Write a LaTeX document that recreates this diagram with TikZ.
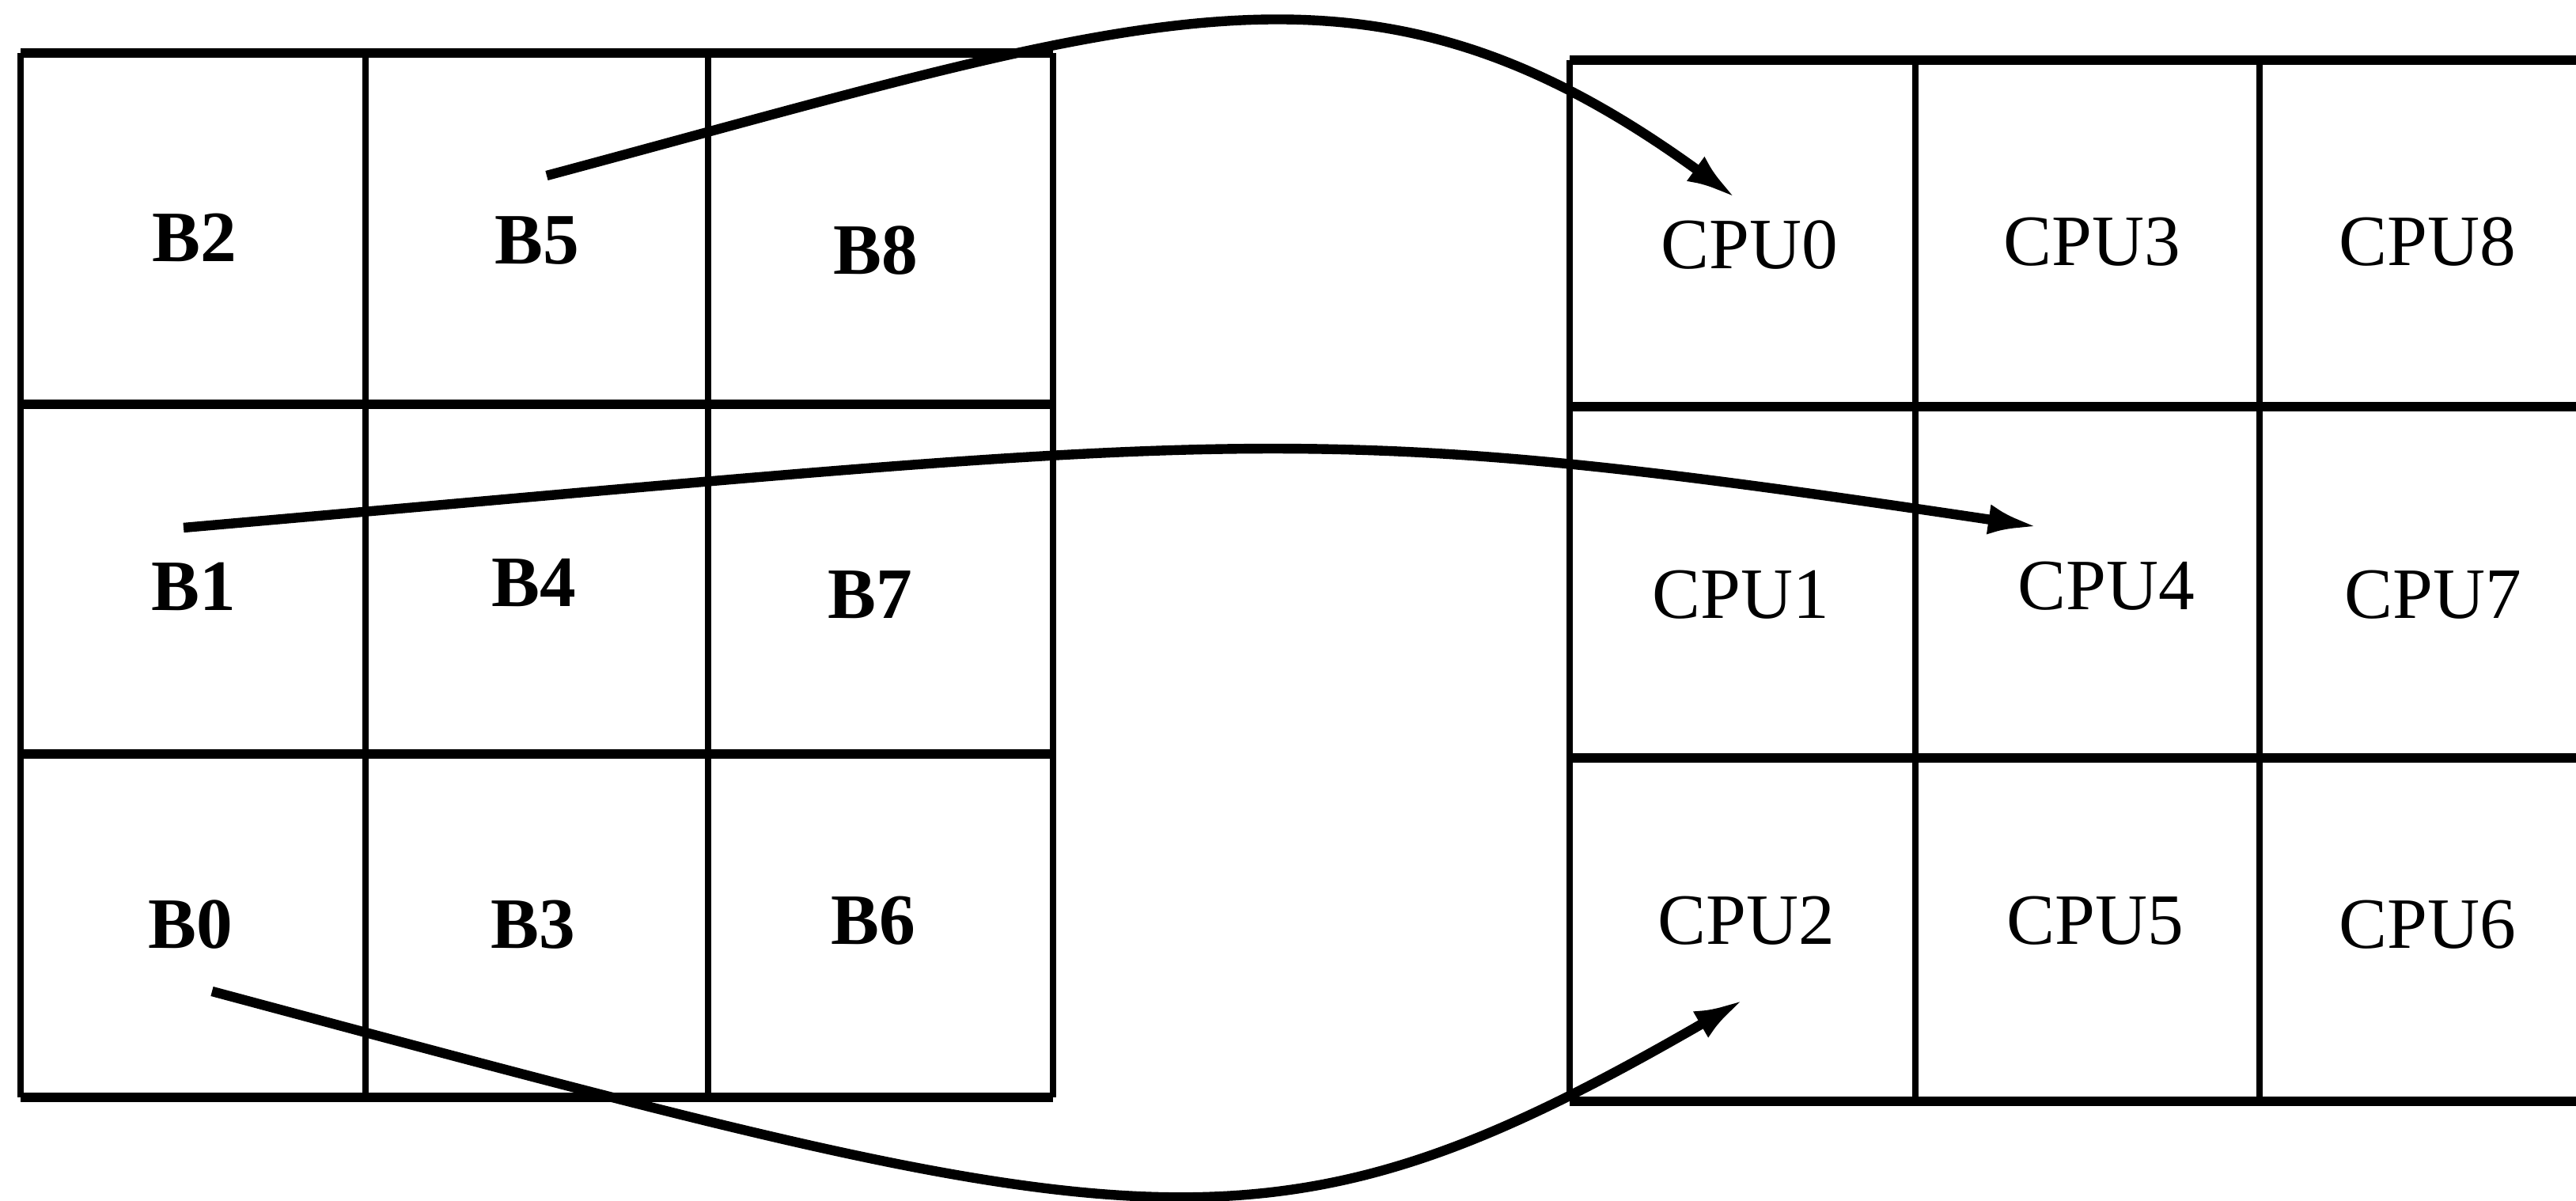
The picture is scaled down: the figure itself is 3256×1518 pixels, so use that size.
\documentclass[tikz,border=0pt]{standalone}
\usepackage{fontspec}
\setmainfont{Liberation Serif}
\usepackage{tikz}
\usetikzlibrary{arrows.meta}

\begin{document}
\begin{tikzpicture}[x=0.05mm,y=0.05mm,
    hline/.style={line width=0.6mm},
    vline/.style={line width=0.4mm},
    block/.style={font=\fontsize{13}{15}\selectfont\bfseries,inner sep=0pt},
    cpu/.style={font=\fontsize{13}{15}\selectfont,inner sep=0pt},
    link/.style={line width=0.62mm,-{Latex[length=3.2mm,width=1.9mm]}}]

  \clip (0,0) rectangle (3256,1518);

  % data blocks
  \draw[hline] (26,1451) -- (1331,1451) (26,1007) -- (1331,1007)
               (26,565) -- (1331,565) (26,131) -- (1331,131);
  \draw[vline] (26,1451) -- (26,131) (462,1451) -- (462,131)
               (895,1451) -- (895,131) (1331,1451) -- (1331,131);

  % processors
  \draw[hline] (1984,1442) -- (3293,1442) (1984,1004) -- (3293,1004)
               (1984,560) -- (3293,560) (1984,126) -- (3293,126);
  \draw[vline] (1984,1442) -- (1984,126) (2421,1442) -- (2421,126)
               (2856,1442) -- (2856,126);

  \node[block] (b2) at (246,1218) {B2};
  \node[block] (b5) at (679,1214) {B5};
  \node[block] (b8) at (1107,1201) {B8};
  \node[block] (b1) at (245,777) {B1};
  \node[block] (b4) at (675,781) {B4};
  \node[block] (b7) at (1100,766) {B7};
  \node[block] (b0) at (241,349) {B0};
  \node[block] (b3) at (674,349) {B3};
  \node[block] (b6) at (1104,354) {B6};

  \node[cpu] (cpu0) at (2211,1208) {CPU0};
  \node[cpu] (cpu3) at (2644,1212) {CPU3};
  \node[cpu] (cpu8) at (3068,1212) {CPU8};
  \node[cpu] (cpu1) at (2200,766) {CPU1};
  \node[cpu] (cpu4) at (2662,777) {CPU4};
  \node[cpu] (cpu7) at (3075,766) {CPU7};
  \node[cpu] (cpu2) at (2207,354) {CPU2};
  \node[cpu] (cpu5) at (2648,354) {CPU5};
  \node[cpu] (cpu6) at (3068,349) {CPU6};

  \draw[link] ([shift={(12,82)}]b5.center) to[out=15,in=144,out distance=39.5mm,in distance=29.2mm] ([shift={(-16,59)}]cpu0.center);
  \draw[link] ([shift={(-13,74)}]b1.center) to[out=5,in=171.5,out distance=68.5mm,in distance=48mm] ([shift={(-85,75)}]cpu4.center);
  \draw[link] ([shift={(27,-84)}]b0.center) to[out=-15,in=-150,out distance=60.9mm,in distance=35.3mm] ([shift={(-2,-99)}]cpu2.center);

\end{tikzpicture}
\end{document}
